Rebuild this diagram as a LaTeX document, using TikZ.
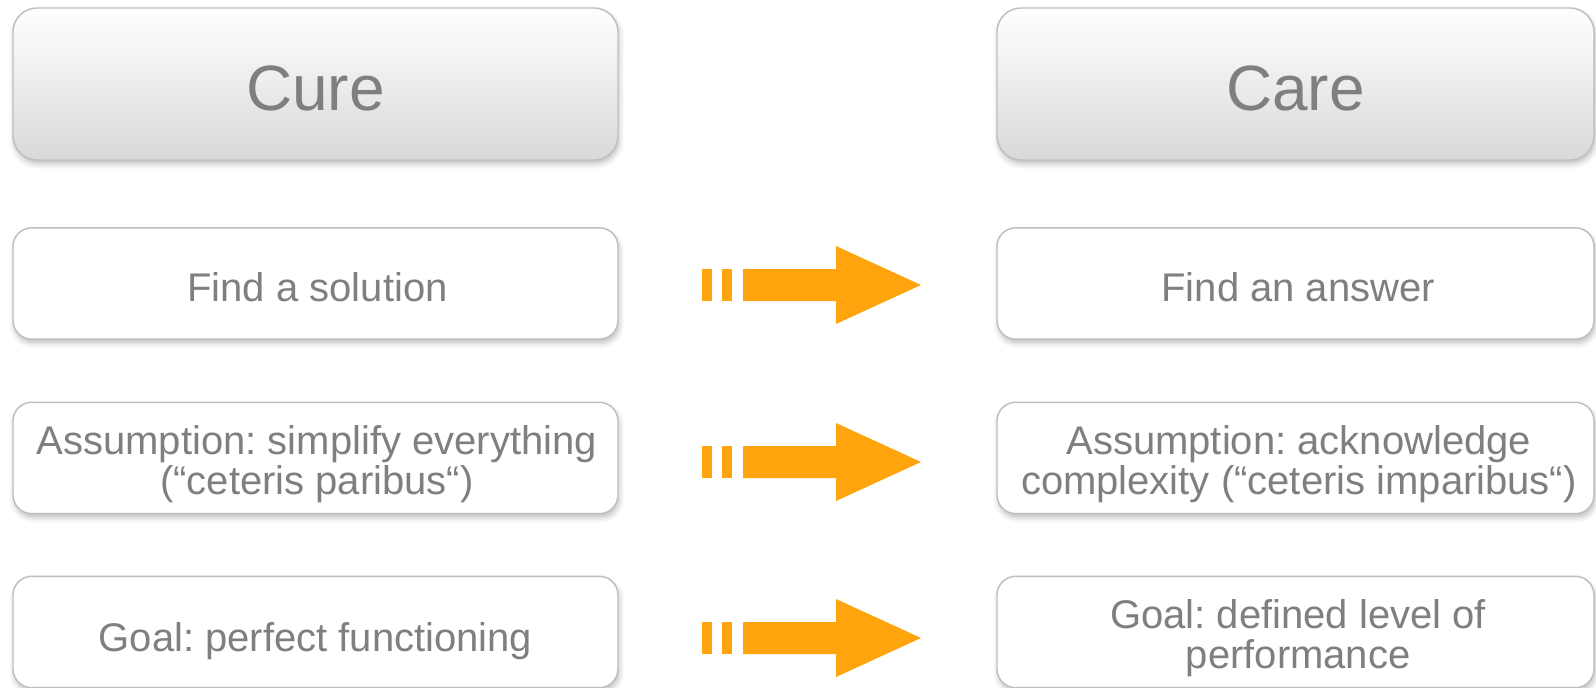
\documentclass[tikz,border=0pt]{standalone}
\usepackage{fontspec}
\setmainfont{Liberation Sans}
\usetikzlibrary{shadows.blur}
\definecolor{txtgray}{HTML}{7F7F7F}
\definecolor{bordergray}{HTML}{BFBFBF}
\definecolor{headbot}{HTML}{D9D9D9}
\definecolor{arroworange}{HTML}{FFA40C}
\begin{document}
\frenchspacing
\begin{tikzpicture}[x=0.75pt,y=-0.75pt,
  box/.style={draw=bordergray, line width=1.1pt, rounded corners=14pt, fill=white,
    inner sep=0pt,
    blur shadow={shadow xshift=1pt, shadow yshift=-3pt, shadow blur radius=4pt, shadow opacity=25}},
  headbox/.style={box, top color=white, bottom color=headbot, rounded corners=18pt},
  lw/.style={minimum width=453.75pt},
  rw/.style={minimum width=447.75pt},
  hh/.style={minimum height=114pt},
  rh/.style={minimum height=83.5pt},
  txt/.style={text=txtgray, align=center, inner sep=0pt, font=\fontsize{30}{30}\selectfont},
  onetxt/.style={txt, text height=21.9pt, text depth=6.3pt},
  headtxt/.style={txt, font=\fontsize{48}{52}\selectfont},
  dasharrow/.pic={
    \fill[arroworange] (0,-16) rectangle (10,16);
    \fill[arroworange] (20,-16) rectangle (30,16);
    \fill[arroworange] (41,-16) -- (134,-16) -- (134,-39) -- (219,0) -- (134,39) -- (134,16) -- (41,16) -- cycle;
  }
]
\useasboundingbox (0,0) rectangle (1596,688);
\node[headbox,lw,hh] (cure) at (315.5,84) {};
\node[headbox,rw,hh] (care) at (1295.5,84) {};
\node[box,lw,rh] (l1) at (315.5,283.5) {};
\node[box,rw,rh] (r1) at (1295.5,283.5) {};
\node[box,lw,rh] (l2) at (315.5,458) {};
\node[box,rw,rh] (r2) at (1295.5,458) {};
\node[box,lw,rh] (l3) at (315.5,632) {};
\node[box,rw,rh] (r3) at (1295.5,632) {};
\node[headtxt] (curet) at ([yshift=-3.7pt]cure.center) {Cure};
\node[headtxt] (caret) at ([yshift=-3.7pt]care.center) {Care};
\node[onetxt] (l1t) at ([xshift=1.5pt,yshift=-6pt]l1.center) {Find a solution};
\node[onetxt] (r1t) at ([xshift=2pt,yshift=-6pt]r1.center) {Find an answer};
\node[txt] (l2t) at ([xshift=1pt,yshift=-4.6pt]l2.center) {Assumption: simplify everything\\(“ceteris paribus“)};
\node[txt] (r2t) at ([xshift=2.5pt,yshift=-4.6pt]r2.center) {Assumption: acknowledge\\complexity (“ceteris imparibus“)};
\node[onetxt] (l3t) at ([yshift=-6.5pt]l3.center) {Goal: perfect functioning};
\node[txt] (r3t) at ([xshift=2pt,yshift=-4.6pt]r3.center) {Goal: defined level of\\performance};
\pic at (702,285) {dasharrow};
\pic at (702,462) {dasharrow};
\pic at (702,638) {dasharrow};
\end{tikzpicture}
\end{document}
